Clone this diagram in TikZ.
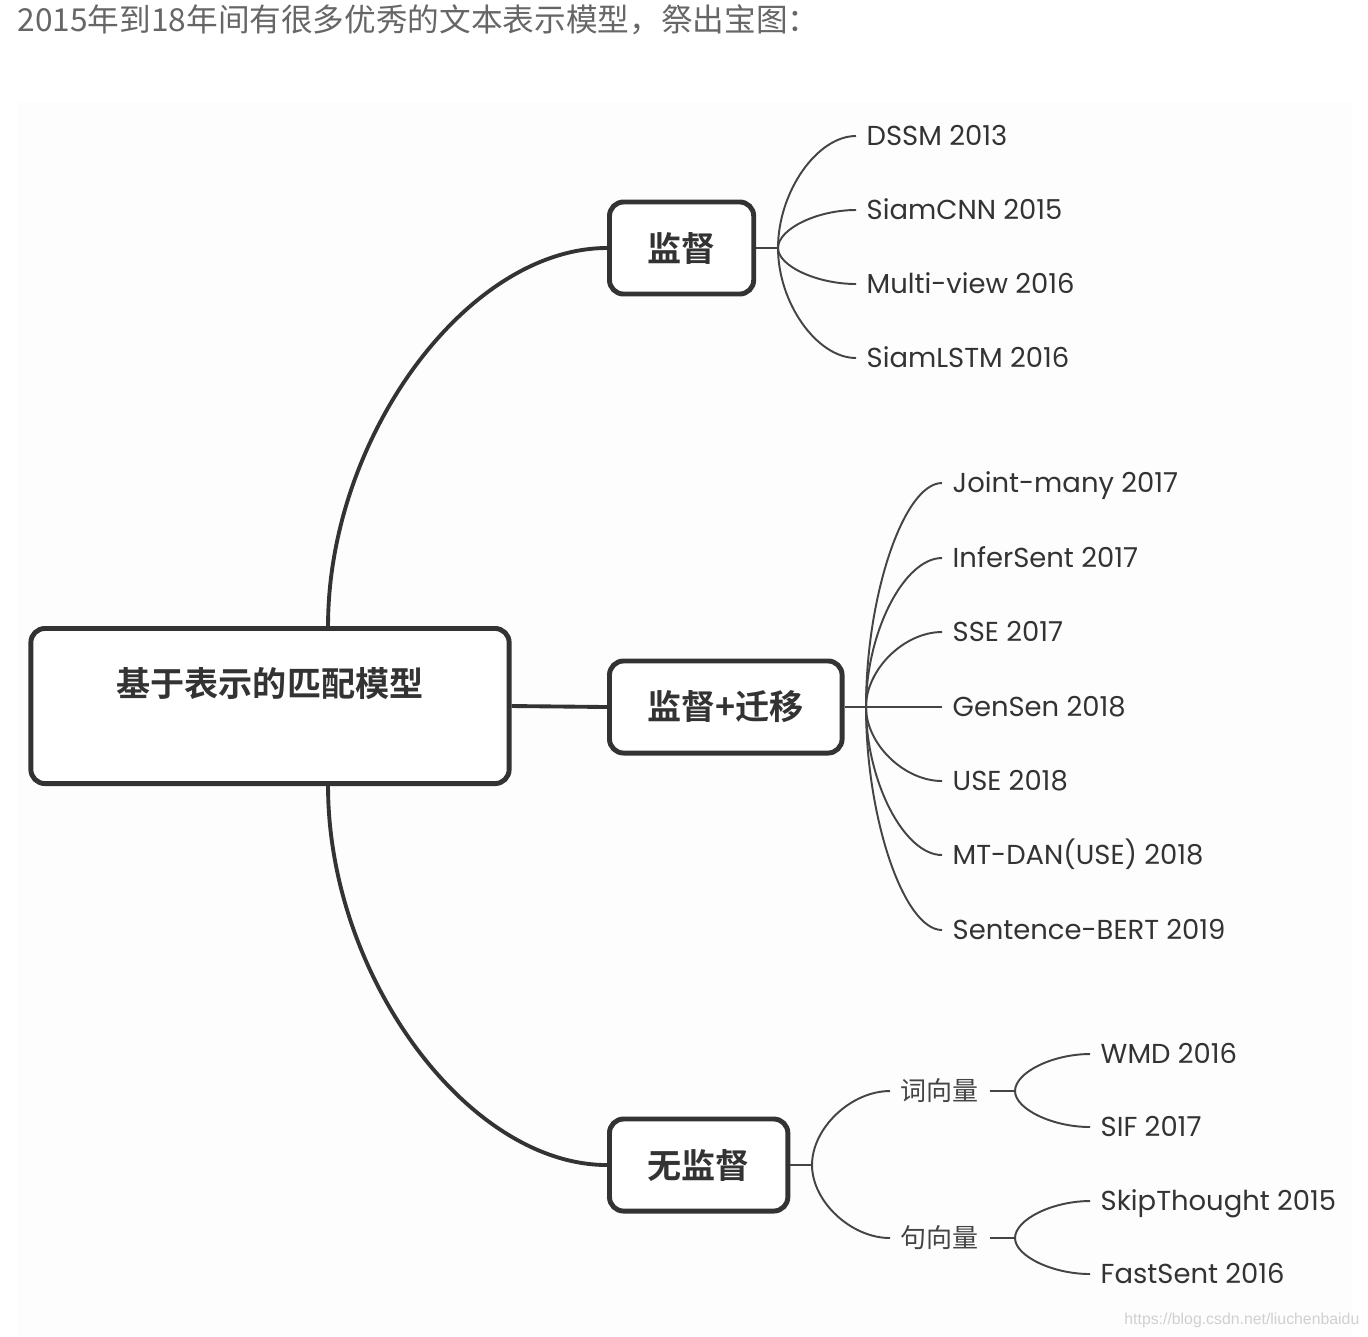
\documentclass[tikz,border=0pt]{standalone}
\usepackage{fontspec}
\setmainfont{Poppins}
\newfontfamily\cjk{Noto Sans CJK SC}[BoldFont={Noto Sans CJK SC Bold}]
\newfontfamily\urlfont{Liberation Sans}
\usepackage{tikz}
\usetikzlibrary{positioning,calc}
\definecolor{inkdark}{HTML}{333333}
\definecolor{inkline}{HTML}{444444}
\definecolor{inkgray}{HTML}{666666}
\definecolor{paper}{HTML}{FDFDFD}
\definecolor{markgray}{HTML}{D0D0D0}

\begin{document}
\begin{tikzpicture}[x=0.01cm, y=0.01cm,
  catbox/.style={draw=inkdark, line width=1.4pt, rounded corners=4pt, fill=white, text=inkdark,
    font=\cjk\bfseries\fontsize{9.7}{11}\selectfont, minimum height=0.92cm, inner xsep=0.38cm, anchor=west},
  leaf/.style={anchor=west, inner xsep=0.1cm, inner ysep=0pt, text height=0.54em, text depth=0pt,
    font=\fontsize{7.8}{9}\selectfont, text=inkdark},
  subleaf/.style={anchor=west, inner xsep=0.1cm, inner ysep=0pt, text=inkline,
    font=\cjk\fontsize{7.4}{9}\selectfont},
  branch/.style={draw=inkdark, line width=1.1pt},
  twig/.style={draw=inkline, line width=0.55pt},
  fan/.style={to path={.. controls ($(\tikztostart)!0.5!(\tikztostart|-\tikztotarget)$)
    and ($(\tikztostart|-\tikztotarget)!0.5!(\tikztotarget)$) .. (\tikztotarget)}}]
  \useasboundingbox (0,0) rectangle (1368,-1336);
  \fill[paper] (17,-102) rectangle (1352,-1336);

  % heading line above the picture
  \node[anchor=base west, inner sep=0pt, text=inkgray, font=\cjk\fontsize{9.0}{11}\selectfont] (heading) at (17,-31) {2015年到18年间有很多优秀的文本表示模型，祭出宝图：};

  % root and the three categories
  \node[draw=inkdark, line width=1.4pt, rounded corners=4pt, fill=white, text=inkdark,
    font=\cjk\bfseries\fontsize{9.7}{11}\selectfont, minimum width=4.78cm, minimum height=1.55cm,
    text height=0.3cm, text depth=0.5cm] (root) at (270,-706) {基于表示的匹配模型};
  \node[catbox] (sup) at (607,-248) {监督};
  \node[catbox] (suptr) at (607,-707) {监督+迁移};
  \node[catbox] (unsup) at (607,-1165) {无监督};

  \draw[branch] ([xshift=0.58cm]root.north) to[fan] (sup.west);
  \draw[branch] (root.east) -- (suptr.west);
  \draw[branch] ([xshift=0.58cm]root.south) to[fan] (unsup.west);

  % supervised
  \coordinate (supfork) at (778,-248);
  \node[leaf] (dssm) at (856,-136) {DSSM 2013};
  \node[leaf] (siamcnn) at (856,-210) {SiamCNN 2015};
  \node[leaf] (multiview) at (856,-284) {Multi-view 2016};
  \node[leaf] (siamlstm) at (856,-358) {SiamLSTM 2016};
  \draw[twig] (sup.east) -- (supfork);
  \draw[twig] (supfork) to[fan] (dssm.west);
  \draw[twig] (supfork) to[fan] (siamcnn.west);
  \draw[twig] (supfork) to[fan] (multiview.west);
  \draw[twig] (supfork) to[fan] (siamlstm.west);

  % supervised + transfer
  \coordinate (suptrfork) at (866,-707);
  \node[leaf] (jointmany) at (942,-483) {Joint-many 2017};
  \node[leaf] (infersent) at (942,-558) {InferSent 2017};
  \node[leaf] (sse) at (942,-632) {SSE 2017};
  \node[leaf] (gensen) at (942,-707) {GenSen 2018};
  \node[leaf] (use) at (942,-781) {USE 2018};
  \node[leaf] (mtdan) at (942,-855) {MT-DAN(USE) 2018};
  \node[leaf] (sbert) at (942,-930) {Sentence-BERT 2019};
  \draw[twig] (suptr.east) -- (suptrfork);
  \draw[twig] (suptrfork) to[fan] (jointmany.west);
  \draw[twig] (suptrfork) to[fan] (infersent.west);
  \draw[twig] (suptrfork) to[fan] (sse.west);
  \draw[twig] (suptrfork) -- (gensen.west);
  \draw[twig] (suptrfork) to[fan] (use.west);
  \draw[twig] (suptrfork) to[fan] (mtdan.west);
  \draw[twig] (suptrfork) to[fan] (sbert.west);

  % unsupervised
  \coordinate (unsupfork) at (812,-1165);
  \node[subleaf] (wordvec) at (890,-1091) {词向量};
  \node[subleaf] (sentvec) at (890,-1238) {句向量};
  \draw[twig] (unsup.east) -- (unsupfork);
  \draw[twig] (unsupfork) to[fan] (wordvec.west);
  \draw[twig] (unsupfork) to[fan] (sentvec.west);

  \coordinate (wordfork) at (1015,-1091);
  \node[leaf] (wmd) at (1090,-1054) {WMD 2016};
  \node[leaf] (sif) at (1090,-1127) {SIF 2017};
  \draw[twig] (wordvec.east) -- (wordfork);
  \draw[twig] (wordfork) to[fan] (wmd.west);
  \draw[twig] (wordfork) to[fan] (sif.west);

  \coordinate (sentfork) at (1015,-1238);
  \node[leaf] (skipthought) at (1090,-1201) {SkipThought 2015};
  \node[leaf] (fastsent) at (1090,-1274) {FastSent 2016};
  \draw[twig] (sentvec.east) -- (sentfork);
  \draw[twig] (sentfork) to[fan] (skipthought.west);
  \draw[twig] (sentfork) to[fan] (fastsent.west);

  \node[anchor=east, inner sep=0pt, text=markgray, font=\urlfont\fontsize{4.5}{5}\selectfont] (mark) at (1360,-1320) {https://blog.csdn.net/liuchenbaidu};
\end{tikzpicture}
\end{document}
